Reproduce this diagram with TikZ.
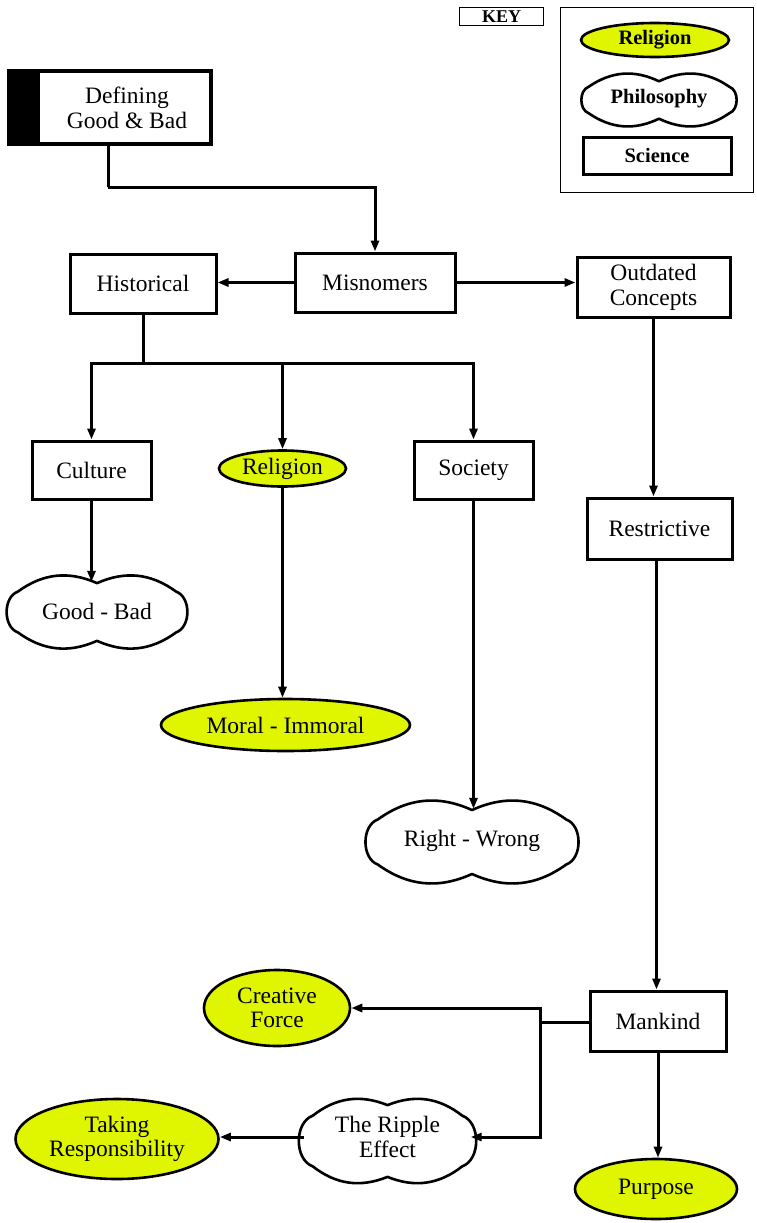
\documentclass[tikz,border=0pt]{standalone}
\usepackage{fontspec}
\setmainfont{Liberation Serif}
\usetikzlibrary{arrows.meta,shapes.geometric}
\definecolor{relyellow}{RGB}{224,245,0}
% peanut-like cloud outline: centre x, centre y, half width, half height
\newcommand{\cloudoutline}[4]{%
  \begin{scope}[shift={(#1,#2)}, x=#3pt, y=#4pt]
    \draw[cloudline] (-0.88,-0.55) to[bend left=70] (-0.88,0.55)
      to[bend left=30] (0,0.78) to[bend left=30] (0.88,0.55)
      to[bend left=70] (0.88,-0.55) to[bend left=30] (0,-0.78)
      to[bend left=30] (-0.88,-0.55) -- cycle;
  \end{scope}}
\begin{document}
\begin{tikzpicture}[x=1pt,y=-1pt,
  every node/.style={inner sep=0pt, align=center, font=\fontsize{23.5}{24.5}\selectfont},
  sci/.style={draw, line width=3pt, rectangle, fill=white},
  rel/.style={draw, line width=2.6pt, ellipse, fill=relyellow},
  phil/.style={ellipse},
  cloudline/.style={line width=2.6pt, fill=white, line join=round},
  conn/.style={line width=3pt},
  arr/.style={line width=3pt, -{Triangle[length=11pt,width=8pt]}},
  keyfont/.style={font=\bfseries\fontsize{20.5}{22}\selectfont}
]
\useasboundingbox (0,0) rectangle (756,1223);

% key
\node[draw, line width=1.5pt, minimum width=84pt, minimum height=18pt, font=\bfseries\fontsize{18}{20}\selectfont] (keylabel) at (501.5,16.5) {KEY};
\node[draw, line width=1.3pt, minimum width=193pt, minimum height=185pt] (keyframe) at (657,100) {};
\node[rel, keyfont, minimum width=148pt, minimum height=34pt] (keyrel) at (655,40) {Religion};
\cloudoutline{659}{100}{80}{24}
\node[phil, keyfont, minimum width=156pt, minimum height=37pt] (keyphil) at (659,99) {Philosophy};
\node[sci, keyfont, minimum width=148pt, minimum height=37pt] (keysci) at (657,155.5) {Science};

% defining
\node[draw, line width=4.5pt, minimum width=202pt, minimum height=73pt] (def) at (110,107.5) {};
\fill (def.north west) rectangle ([xshift=33pt]def.south west);
\node (deftext) at (127,108) {Defining\\Good \& Bad};

% clouds (outlines first, text nodes on top)
\cloudoutline{97}{612}{90}{37}
\cloudoutline{472}{842}{107}{41}
\cloudoutline{387.5}{1141}{85}{46}

% main nodes
\node[sci, minimum width=160pt, minimum height=59pt] (mis) at (375,282.5) {Misnomers};
\node[sci, minimum width=146pt, minimum height=59pt] (hist) at (143,283.5) {Historical};
\node[sci, minimum width=153pt, minimum height=60pt] (out) at (653.5,287.5) {Outdated\\Concepts};
\node[sci, minimum width=119pt, minimum height=58pt] (cul) at (91.5,470) {Culture};
\node[rel, minimum width=127pt, minimum height=36pt] (relig) at (282.5,468.5) {Religion};
\node[sci, minimum width=119pt, minimum height=58pt] (soc) at (473.5,470) {Society};
\node[phil, minimum width=176pt, minimum height=58pt] (gb) at (97,611) {Good - Bad};
\node[rel, minimum width=249pt, minimum height=52pt] (mi) at (285.5,725) {Moral - Immoral};
\node[phil, minimum width=210pt, minimum height=64pt] (rw) at (472,841) {Right - Wrong};
\node[sci, minimum width=145pt, minimum height=61pt] (res) at (659.5,528.5) {Restrictive};
\node[sci, minimum width=136pt, minimum height=60pt] (man) at (658,1021) {Mankind};
\node[rel, minimum width=146pt, minimum height=76pt] (cf) at (277,1008) {Creative\\Force};
\node[phil, minimum width=166pt, minimum height=72pt] (rip) at (387.5,1137) {The Ripple\\Effect};
\node[rel, minimum width=203pt, minimum height=80pt] (tr) at (117,1139) {Taking\\Responsibility};
\node[rel, minimum width=162pt, minimum height=60pt] (pur) at (656,1189) {Purpose};

% connectors
\coordinate (dj) at (108,187);
\coordinate (hj) at (143,363);
\coordinate (mj) at (540,1022);
\draw[conn] (def.south -| dj) -- (dj);
\draw[arr] (dj) -| (mis.north);
\draw[arr] (mis.west) -- (mis.west -| hist.east);
\draw[arr] (mis.east) -- (mis.east -| out.west);
\draw[conn] (hist.south) -- (hj);
\draw[arr] (hj) -| (cul.north);
\draw[arr] (hj) -| (soc.north);
\draw[arr] (relig.north |- hj) -- (relig.north);
\draw[arr] (cul.south) -- (cul.south |- gb.north);
\draw[arr] (relig.south) -- (relig.south |- mi.north);
\draw[arr] (soc.south) -- (soc.south |- rw.north);
\draw[arr] (out.south) -- (out.south |- res.north);
\draw[arr] ([xshift=-3pt]res.south) -- ([xshift=-3pt]res.south |- man.north);
\draw[conn] (man.west |- mj) -- (mj);
\draw[arr] (mj) |- (cf.east);
\draw[arr] (mj) |- (rip.east);
\draw[arr] (rip.west) -- (rip.west -| tr.east);
\draw[arr] (man.south) -- (man.south |- pur.north);
\end{tikzpicture}
\end{document}
